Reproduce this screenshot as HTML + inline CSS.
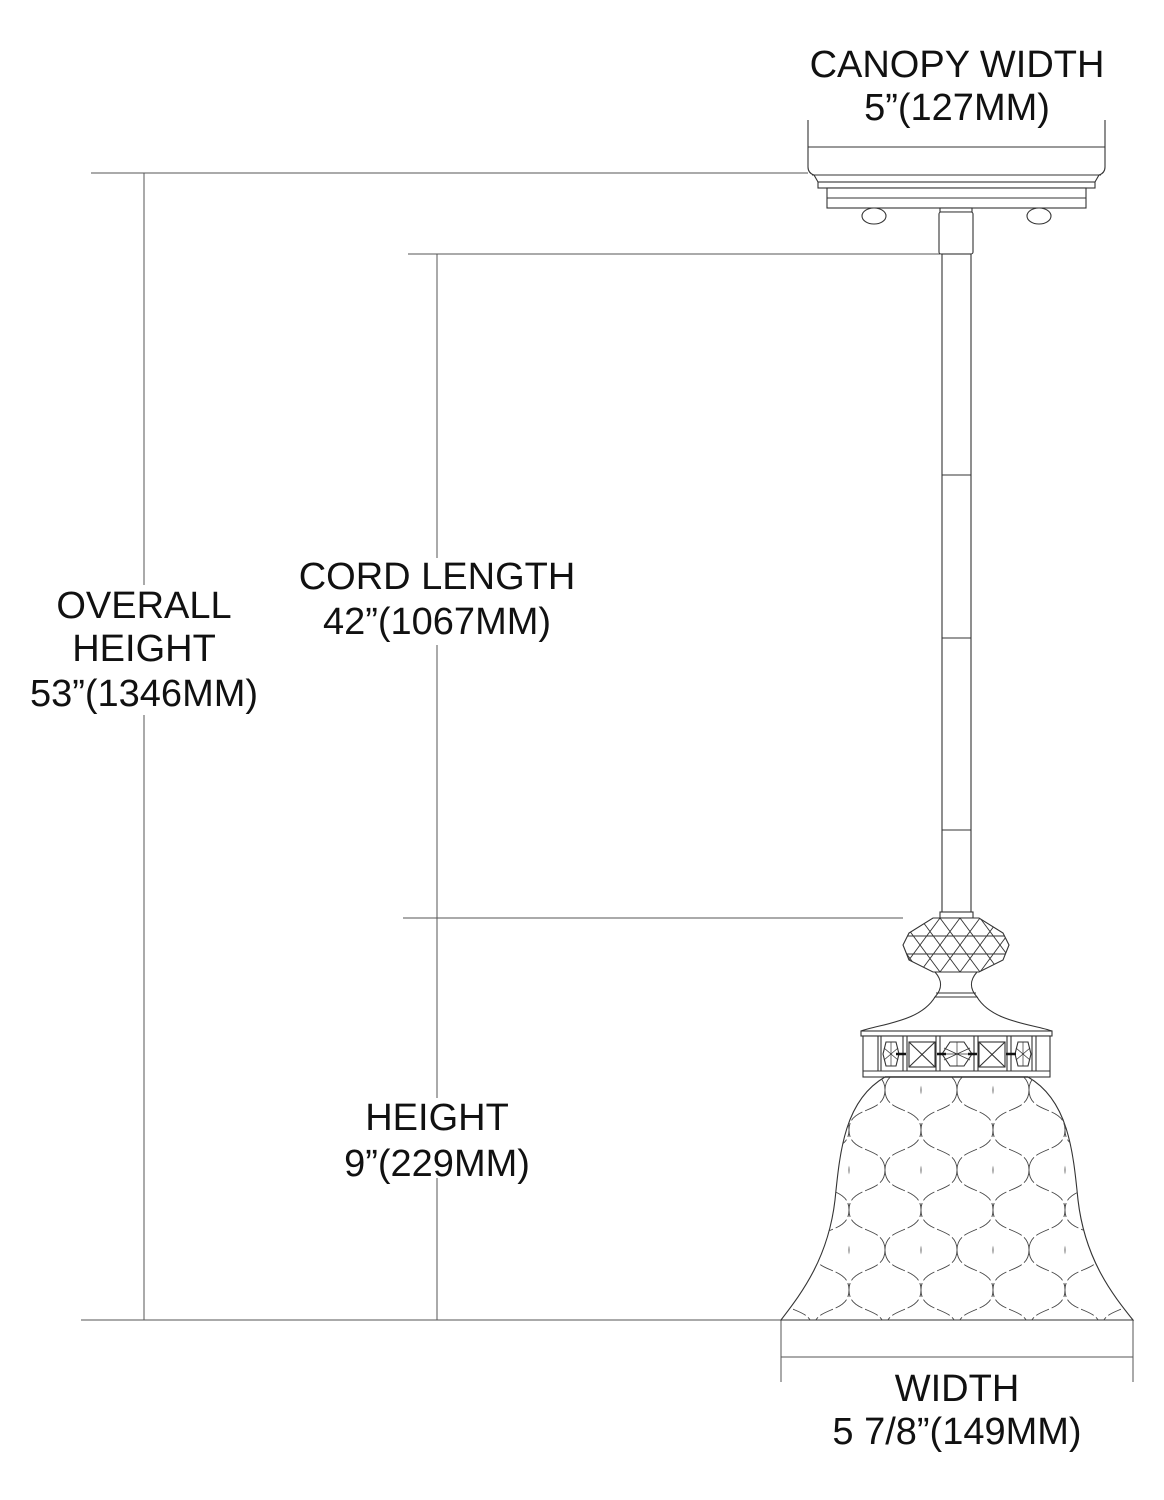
<!DOCTYPE html>
<html><head><meta charset="utf-8"><style>
html,body{margin:0;padding:0;background:#fff;}
svg{display:block;}
text{font-family:"Liberation Sans",Arial,sans-serif;font-size:38px;fill:#111;text-anchor:middle;}
</style></head><body>
<svg width="1164" height="1500" viewBox="0 0 1164 1500" xmlns="http://www.w3.org/2000/svg">
<defs>
<pattern id="ogee" width="72" height="80" patternUnits="userSpaceOnUse" patternTransform="translate(921,1090)">
<path d="M36,0 C36,25 0,15 0,40 C0,65 36,55 36,80 M36,0 C36,25 72,15 72,40 C72,65 36,55 36,80 M0,0 C0,25 -36,15 -36,40 M72,0 C72,25 108,15 108,40 M-36,40 C-36,65 0,55 0,80 M108,40 C108,65 72,55 72,80" fill="none" stroke="#444" stroke-width="0.9" stroke-dasharray="14,3"/>
</pattern>
<clipPath id="glassclip"><path d="M885,1077 C845,1100 840,1150 835,1200 C828,1260 800,1295 781,1320 L1133,1320 C1113,1295 1085,1260 1078,1200 C1073,1150 1068,1100 1028,1077 Z"/></clipPath>
<clipPath id="finclip"><polygon points="933,918 979,918 1003,933 1009,945 1003,960 979,972 933,972 909,960 903,945 909,933"/></clipPath>
</defs>
<g stroke="#555" stroke-width="1" fill="none">
<line x1="91" y1="173" x2="808" y2="173"/>
<line x1="144" y1="173" x2="144" y2="585"/>
<line x1="144" y1="715" x2="144" y2="1320"/>
<line x1="81" y1="1320" x2="781" y2="1320"/>
<line x1="408" y1="254" x2="940" y2="254"/>
<line x1="437" y1="254" x2="437" y2="558"/>
<line x1="437" y1="645" x2="437" y2="1098"/>
<line x1="437" y1="1178" x2="437" y2="1320"/>
<line x1="403" y1="918" x2="903" y2="918"/>
<line x1="808" y1="120" x2="808" y2="165"/>
<line x1="1105" y1="120" x2="1105" y2="165"/>
<line x1="781" y1="1320" x2="781" y2="1382"/>
<line x1="1133" y1="1320" x2="1133" y2="1382"/>
<line x1="781" y1="1357" x2="1133" y2="1357"/>
</g>
<g stroke="#333" stroke-width="1.1" fill="#fff">
<path d="M808,120 L808,167 Q808,173 814,175 L818,182 L1095,182 L1099,175 Q1105,173 1105,167 L1105,120"/>
<line x1="808" y1="147" x2="1105" y2="147"/>
<line x1="812" y1="175" x2="1101" y2="175"/>
<rect x="818" y="182" width="277" height="6"/>
<rect x="827" y="188" width="259" height="20"/>
<line x1="827" y1="198" x2="1086" y2="198"/>
<ellipse cx="874" cy="216" rx="12" ry="8"/>
<ellipse cx="1039" cy="216" rx="12" ry="8"/>
<rect x="940" y="208" width="32" height="4"/>
<rect x="939" y="212" width="34" height="42" rx="2"/>
<rect x="942" y="254" width="29" height="660"/>
<line x1="942" y1="475" x2="971" y2="475"/>
<line x1="942" y1="638" x2="971" y2="638"/>
<line x1="942" y1="830" x2="971" y2="830"/>
<rect x="940" y="912" width="33" height="6"/>
<polygon points="933,918 979,918 1003,933 1009,945 1003,960 979,972 933,972 909,960 903,945 909,933"/>
</g>
<g clip-path="url(#finclip)" stroke="#333" stroke-width="0.9">
<line x1="860" y1="918" x2="900" y2="972"/><line x1="880" y1="918" x2="920" y2="972"/>
<line x1="900" y1="918" x2="940" y2="972"/><line x1="920" y1="918" x2="960" y2="972"/>
<line x1="940" y1="918" x2="980" y2="972"/><line x1="960" y1="918" x2="1000" y2="972"/>
<line x1="980" y1="918" x2="1020" y2="972"/><line x1="1000" y1="918" x2="1040" y2="972"/>
<line x1="920" y1="918" x2="880" y2="972"/><line x1="940" y1="918" x2="900" y2="972"/>
<line x1="960" y1="918" x2="920" y2="972"/><line x1="980" y1="918" x2="940" y2="972"/>
<line x1="1000" y1="918" x2="960" y2="972"/><line x1="1020" y1="918" x2="980" y2="972"/>
<line x1="1040" y1="918" x2="1000" y2="972"/><line x1="1060" y1="918" x2="1020" y2="972"/>
<line x1="900" y1="936" x2="1010" y2="936"/><line x1="900" y1="954" x2="1010" y2="954"/>
</g>
<g stroke="#333" stroke-width="1.1" fill="#fff">
<path d="M935,972 C942,980 943,988 935,997 L977,997 C969,988 970,980 977,972 Z"/>
<line x1="936" y1="993" x2="976" y2="993"/>
<path d="M935,997 C920,1022 880,1024 861,1031 L1052,1031 C1032,1024 992,1022 977,997 Z"/>
<rect x="861" y="1031" width="191" height="5"/>
<rect x="863" y="1036" width="187" height="41"/>
<line x1="863" y1="1071" x2="1050" y2="1071"/>
<line x1="878" y1="1036" x2="878" y2="1071"/><line x1="881" y1="1036" x2="881" y2="1071"/>
<line x1="903" y1="1036" x2="903" y2="1071"/><line x1="907" y1="1036" x2="907" y2="1071"/>
<line x1="936" y1="1036" x2="936" y2="1071"/><line x1="940" y1="1036" x2="940" y2="1071"/>
<line x1="974" y1="1036" x2="974" y2="1071"/><line x1="978" y1="1036" x2="978" y2="1071"/>
<line x1="1007" y1="1036" x2="1007" y2="1071"/><line x1="1011" y1="1036" x2="1011" y2="1071"/>
<line x1="1032" y1="1036" x2="1032" y2="1071"/><line x1="1036" y1="1036" x2="1036" y2="1071"/>
<rect x="909" y="1042" width="26" height="25"/><line x1="909" y1="1042" x2="935" y2="1067"/><line x1="935" y1="1042" x2="909" y2="1067"/>
<rect x="979" y="1042" width="26" height="25"/><line x1="979" y1="1042" x2="1005" y2="1067"/><line x1="1005" y1="1042" x2="979" y2="1067"/>
<polygon points="886,1042 896,1042 899,1054 896,1066 886,1066 883,1054"/>
<path d="M891,1042 L891,1066 M884,1048 L898,1060 M884,1060 L898,1048" stroke-width="0.7"/>
<polygon points="1018,1042 1028,1042 1031,1054 1028,1066 1018,1066 1015,1054"/>
<path d="M1023,1042 L1023,1066 M1016,1048 L1030,1060 M1016,1060 L1030,1048" stroke-width="0.7"/>
<polygon points="950,1042 964,1042 972,1054 964,1066 950,1066 942,1054"/>
<path d="M957,1042 L957,1066 M944,1048 L970,1060 M944,1060 L970,1048 M942,1054 L972,1054" stroke-width="0.7"/>
</g>
<g stroke="#111" stroke-width="2.5">
<line x1="896" y1="1054" x2="906" y2="1054"/><line x1="937" y1="1054" x2="946" y2="1054"/>
<line x1="968" y1="1054" x2="977" y2="1054"/><line x1="1006" y1="1054" x2="1016" y2="1054"/>
</g>
<path d="M885,1077 C845,1100 840,1150 835,1200 C828,1260 800,1295 781,1320 L1133,1320 C1113,1295 1085,1260 1078,1200 C1073,1150 1068,1100 1028,1077 Z" fill="#fff" stroke="#333" stroke-width="1.1"/>
<rect x="770" y="1077" width="380" height="243" fill="url(#ogee)" clip-path="url(#glassclip)"/>
<line x1="885" y1="1077" x2="1028" y2="1077" stroke="#333" stroke-width="1.5"/>
<text x="957" y="77">CANOPY WIDTH</text>
<text x="957" y="120">5”(127MM)</text>
<text x="144" y="618">OVERALL</text>
<text x="144" y="661">HEIGHT</text>
<text x="144" y="706">53”(1346MM)</text>
<text x="437" y="589">CORD LENGTH</text>
<text x="437" y="634">42”(1067MM)</text>
<text x="437" y="1130">HEIGHT</text>
<text x="437" y="1176">9”(229MM)</text>
<text x="957" y="1401">WIDTH</text>
<text x="957" y="1444">5 7/8”(149MM)</text>
</svg>
</body></html>
